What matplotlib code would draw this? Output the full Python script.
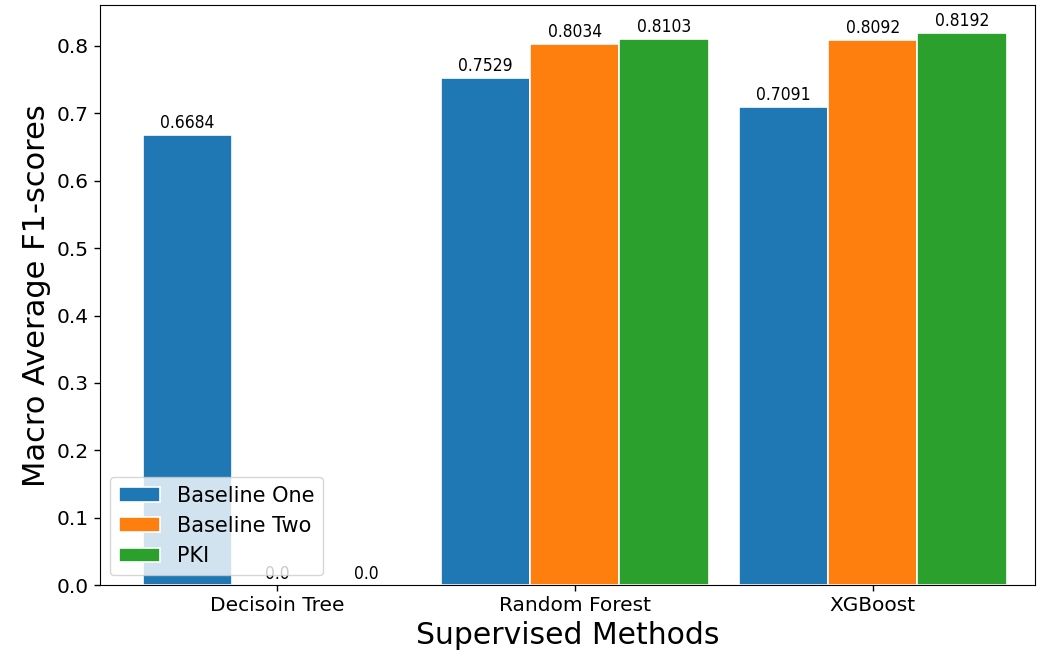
import numpy as np
import matplotlib.pyplot as plt

# scores per method
methods = ['Decisoin Tree', 'Random Forest', 'XGBoost']
baseline_one = [0.6684, 0.7529, 0.7091]
baseline_two = [0.0, 0.8034, 0.8092]
pki = [0.0, 0.8103, 0.8192]
series_names = ['Baseline One', 'Baseline Two', 'PKI']

x = np.arange(len(methods))
width = 0.3

fig = plt.figure(figsize=(10.4, 6.62), dpi=100)
ax = fig.add_axes([0.096, 0.116, 0.899, 0.876])

for i, (vals, name) in enumerate(zip([baseline_one, baseline_two, pki], series_names)):
    bars = ax.bar(x + (i - 1) * width, vals, width, label=name, edgecolor='white', linewidth=1.2)
    for b, v in zip(bars, vals):
        ax.text(b.get_x() + b.get_width() / 2, b.get_height() + 0.004, str(v),
                ha='center', va='bottom', fontsize=12.5, fontstretch='condensed')

ax.set_xticks(x)
ax.set_xticklabels(methods, fontsize=14.5)
ax.tick_params(axis='y', labelsize=14.5)
ax.tick_params(length=4.5, width=1)
ax.set_xlim(-0.594, 2.544)
ax.set_ylabel('Macro Average F1-scores', fontsize=22)
ax.set_xlabel('Supervised Methods', fontsize=21.5)
ax.legend(loc='lower left', fontsize=15)

plt.savefig('out.png')
